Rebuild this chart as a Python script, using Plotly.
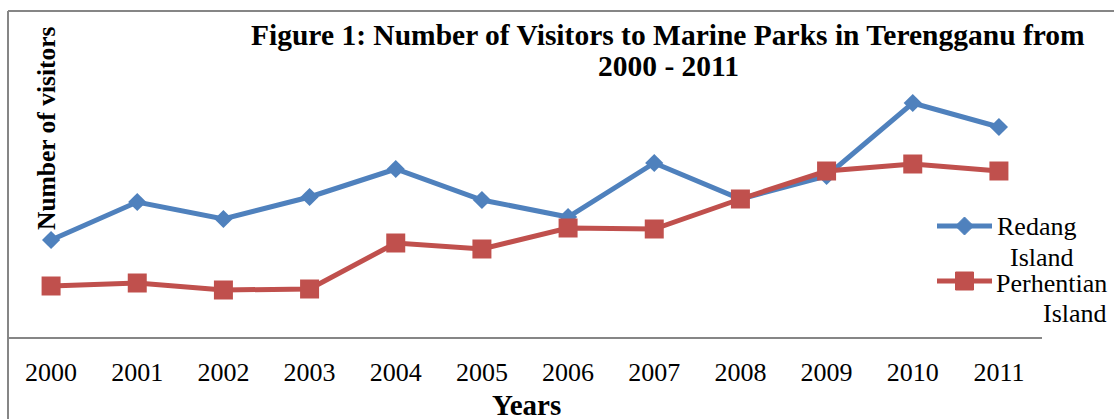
import plotly.graph_objects as go

years = ["2000", "2001", "2002", "2003", "2004", "2005", "2006", "2007", "2008", "2009", "2010", "2011"]
redang = [97, 135, 118, 140, 168, 137, 120, 174, 138, 161, 234, 210]
perhentian = [51, 54, 47, 48, 94, 88, 109, 108, 138, 166, 173, 166]

BLUE = "#4F81BD"
RED = "#C0504D"
GRAY = "#868686"
FONT = "Liberation Serif, Times New Roman, serif"

W, H = 1114, 419
L, R, T, B = 8, 72, 11, 82
PW, PH = W - L - R, H - T - B


def px(x):
    return (x - L) / PW


def py(y):
    return (H - B - y) / PH


fig = go.Figure()
fig.add_trace(go.Scatter(x=years, y=redang, mode="lines+markers", name="Redang Island",
                         line=dict(color=BLUE, width=5),
                         marker=dict(symbol="diamond", size=14, color=BLUE),
                         cliponaxis=False, showlegend=False))
fig.add_trace(go.Scatter(x=years, y=perhentian, mode="lines+markers", name="Perhentian Island",
                         line=dict(color=RED, width=5),
                         marker=dict(symbol="square", size=19, color=RED),
                         cliponaxis=False, showlegend=False))

shapes = [
    dict(type="line", xref="paper", yref="paper", x0=px(L), x1=px(W + 5), y0=py(T), y1=py(T),
         line=dict(color=GRAY, width=2)),
    dict(type="line", xref="paper", yref="paper", x0=px(L), x1=px(L), y0=py(T), y1=py(H + 5),
         line=dict(color=GRAY, width=2)),
]
# legend keys
for (yy, col, path) in [(226, BLUE, "M-9,0L0,9L9,0L0,-9Z"), (281, RED, "M-9,-9H9V9H-9Z")]:
    shapes.append(dict(type="line", xref="paper", yref="paper", x0=px(937), x1=px(992),
                       y0=py(yy), y1=py(yy), line=dict(color=col, width=5)))
    shapes.append(dict(type="path", xref="paper", yref="paper", xsizemode="pixel", ysizemode="pixel",
                       xanchor=px(964.5), yanchor=py(yy), path=path,
                       fillcolor=col, line=dict(color=col, width=1)))

ann = []
def text(t, x, y, size, bold=False, xanchor="center", angle=0):
    ann.append(dict(text=("<b>%s</b>" % t) if bold else t, x=px(x), y=py(y), xref="paper", yref="paper",
                    showarrow=False, xanchor=xanchor, yanchor="middle", textangle=angle,
                    font=dict(family=FONT, size=size, color="black")))

text("Figure 1: Number of Visitors to Marine Parks in Terengganu from", 668, 35, 29.5, bold=True)
text("2000 - 2011", 668, 66, 29.5, bold=True)
text("Number of visitors", 46, 128, 25.5, bold=True, angle=-90)
text("Years", 526, 405, 29, bold=True)
text("Redang", 1078, 227, 26, xanchor="right")
text("Island", 1076, 257, 26, xanchor="right")
text("Perhentian", 1109, 283, 26, xanchor="right")
text("Island", 1109, 313, 26, xanchor="right")

fig.update_layout(
    width=W, height=H,
    margin=dict(l=L, r=R, t=T, b=B, pad=0),
    paper_bgcolor="white", plot_bgcolor="white",
    shapes=shapes, annotations=ann,
    xaxis=dict(type="category", range=[-0.5, 11.5], showgrid=False, zeroline=False,
               showline=True, linecolor=GRAY, linewidth=2, ticks="outside", ticklen=11,
               tickcolor="rgba(0,0,0,0)", tickfont=dict(family=FONT, size=26, color="black")),
    yaxis=dict(range=[0, PH], showgrid=False, zeroline=False, showline=False,
               showticklabels=False, ticks=""),
)

fig.write_html("out.html")
